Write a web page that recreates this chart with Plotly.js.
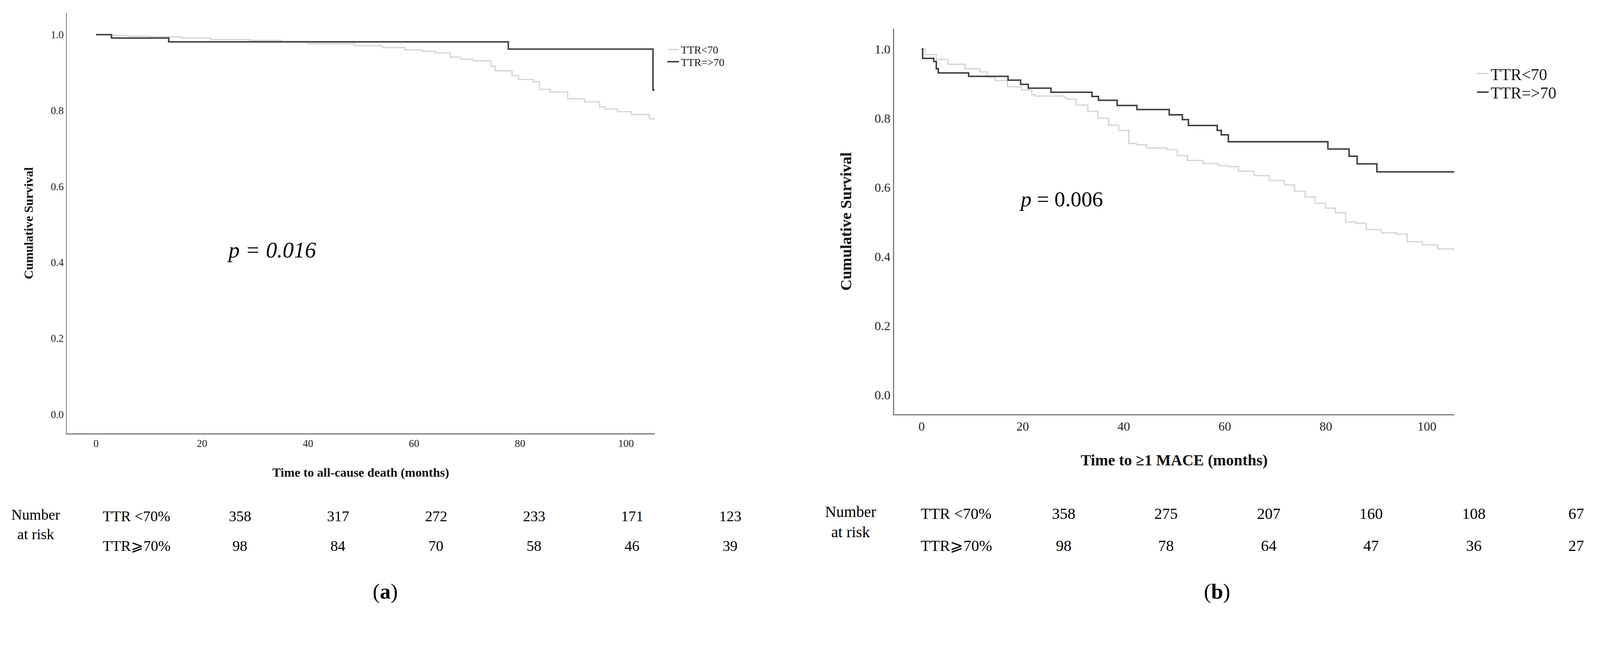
<!DOCTYPE html>
<html>
<head>
<meta charset="utf-8">
<script src="https://cdn.plot.ly/plotly-3.0.1.min.js"></script>
<style>html,body{margin:0;padding:0;background:#fff;overflow:hidden;}#chart{position:absolute;left:0;top:0;}</style>
</head>
<body>
<div id="chart"></div>
<script>
// ---------- DATA ----------
// Panel (a): time to all-cause death (months) vs cumulative survival
const aLowT  = [0, 3.1, 6.2, 10.1, 13.9, 16.2, 21.6, 29, 35, 40, 48.7, 54, 58.3, 61.6, 64, 66.8, 68.8, 71.2, 74.5, 75.3, 78.5, 79.7, 82.5, 83.7, 85.7, 89, 92.2, 95, 96, 98.4, 101, 104.4, 105.5];
const aLowS  = [1.0, 0.998, 0.996, 0.995, 0.994, 0.991, 0.987, 0.985, 0.982, 0.976, 0.971, 0.966, 0.960, 0.956, 0.952, 0.941, 0.935, 0.931, 0.917, 0.905, 0.892, 0.882, 0.876, 0.856, 0.849, 0.831, 0.823, 0.810, 0.804, 0.797, 0.790, 0.778, 0.778];
const aHighT = [0, 2.9, 13.7, 77.8, 105.1, 105.4];
const aHighS = [1.0, 0.991, 0.981, 0.962, 0.854, 0.854];

// Panel (b): time to >=1 MACE (months) vs cumulative survival
const bLowT  = [0, 0.7, 2.9, 5.2, 8.6, 11.5, 13, 14.5, 17, 19.8, 21.8, 22.5, 28.2, 28.6, 30.6, 32.9, 34.9, 37, 39, 41, 42.5, 44.5, 48.6, 50.6, 52.6, 55.7, 58.7, 60.7, 62.7, 65.8, 68.8, 71.8, 73.8, 75.9, 77.9, 79.9, 81.9, 83.9, 86, 88, 91, 94, 96.1, 99.1, 102.1, 105.4];
const bLowS  = [1.0, 0.984, 0.970, 0.956, 0.943, 0.934, 0.919, 0.909, 0.891, 0.882, 0.868, 0.864, 0.860, 0.855, 0.838, 0.820, 0.800, 0.780, 0.765, 0.727, 0.723, 0.714, 0.709, 0.692, 0.678, 0.669, 0.663, 0.660, 0.647, 0.634, 0.620, 0.607, 0.589, 0.572, 0.554, 0.540, 0.527, 0.500, 0.496, 0.478, 0.469, 0.465, 0.443, 0.434, 0.422, 0.416];
const bHighT = [0, 0.2, 2.4, 2.9, 3.3, 9.3, 17.1, 19.6, 21.1, 25.6, 33.7, 35, 38.7, 42.6, 49, 51.6, 52.8, 58.5, 59.3, 60.7, 80.4, 84.6, 86.2, 90.1, 105.4];
const bHighS = [1.0, 0.973, 0.964, 0.943, 0.931, 0.921, 0.910, 0.898, 0.887, 0.875, 0.863, 0.852, 0.837, 0.825, 0.810, 0.796, 0.779, 0.765, 0.752, 0.732, 0.711, 0.690, 0.668, 0.645, 0.645];

const seriesNames = ["TTR<70", "TTR=>70"];
const yTicks = [0, 0.2, 0.4, 0.6, 0.8, 1.0];
const xTicks = [0, 20, 40, 60, 80, 100];

const riskRowLabels = ["TTR <70%", "TTR\u2A7E70%"];
const riskHeader = "Number<br>at risk";
const riskA_low  = [358, 317, 272, 233, 171, 123];
const riskA_high = [98, 84, 70, 58, 46, 39];
const riskB_low  = [358, 275, 207, 160, 108, 67];
const riskB_high = [98, 78, 64, 47, 36, 27];

const pA = "<i>p = 0.016</i>";
const pB = "<i>p</i> = 0.006";
const xTitleA = "<b>Time to all-cause death (months)</b>";
const xTitleB = "<b>Time to \u22651 MACE (months)</b>";
const yTitle = "<b>Cumulative Survival</b>";

// ---------- LAYOUT ----------
const RW = 4302, RH = 1661;
const VW = window.innerWidth || RW, VH = window.innerHeight || RH;
const S = Math.min(VW / RW, VH / RH, 1.5);
const W = Math.round(RW * S), H = Math.round(RH * S);
const k = v => v * S;                 // scale a reference pixel size
const px = x => x / RW;               // reference x pixel -> paper
const py = y => 1 - y / RH;           // reference y pixel -> paper
const SERIF = "Liberation Serif, Times New Roman, serif";
const LIGHT = "#d6d6d6", DARK = "#3d3d3d", AXIS = "#7a7a7a";

function kmTrace(t, s, name, color, width, xa, ya, leg) {
  return {x: t, y: s, name: name, type: "scatter", mode: "lines",
          line: {shape: "hv", color: color, width: k(width)},
          xaxis: xa, yaxis: ya, legend: leg, hoverinfo: "skip"};
}

const traces = [
  kmTrace(aLowT, aLowS, seriesNames[0], LIGHT, 3.5, "x", "y", "legend"),
  kmTrace(aHighT, aHighS, seriesNames[1], DARK, 4, "x", "y", "legend2"),
  kmTrace(bLowT, bLowS, seriesNames[0], LIGHT, 3.5, "x2", "y2", "legend3"),
  kmTrace(bHighT, bHighS, seriesNames[1], DARK, 4, "x2", "y2", "legend4")
];

function xAxis(domain, range, fs, title, tfs, standoff, lstand, anchor) {
  return {domain: domain, range: range, anchor: anchor, tickvals: xTicks, ticktext: xTicks.map(String),
          showline: true, linecolor: AXIS, linewidth: k(3), showgrid: false, zeroline: false,
          ticks: "", ticklabelstandoff: k(lstand), tickfont: {family: SERIF, size: k(fs), color: "#222"},
          title: {text: title, font: {family: SERIF, size: k(tfs), color: "#111"}, standoff: k(standoff)},
          automargin: false, fixedrange: true};
}
function yAxis(domain, range, fs, tfs, standoff, lstand, anchor) {
  return {domain: domain, range: range, anchor: anchor, tickvals: yTicks, ticktext: yTicks.map(v => v.toFixed(1)),
          showline: true, linecolor: AXIS, linewidth: k(3), showgrid: false, zeroline: false,
          ticks: "", ticklabelstandoff: k(lstand), tickfont: {family: SERIF, size: k(fs), color: "#222"},
          title: {text: yTitle, font: {family: SERIF, size: k(tfs), color: "#111"}, standoff: k(standoff)},
          automargin: false, fixedrange: true};
}
function legendAt(x, y, fs) {
  return {x: px(x), y: py(y), xanchor: "left", yanchor: "middle", bgcolor: "rgba(0,0,0,0)",
          borderwidth: 0, font: {family: SERIF, size: k(fs), color: "#1a1a1a"}, itemwidth: 30};
}

const annotations = [];
function txt(x, y, text, size, opts) {
  annotations.push(Object.assign({xref: "paper", yref: "paper", x: px(x), y: py(y), text: text,
    showarrow: false, xanchor: "center", yanchor: "middle",
    font: {family: SERIF, size: k(size), color: "#000"}}, opts || {}));
}
// p values
txt(731, 672, pA, 60);
txt(2853, 535, pB, 58);
// risk tables
function riskTable(hdrX, lblX, colX0, colStep, rowY, low, high, fs) {
  txt(hdrX, rowY[0] + 22, riskHeader, fs);
  txt(lblX, rowY[0], riskRowLabels[0], fs, {xanchor: "left"});
  txt(lblX, rowY[1], riskRowLabels[1], fs, {xanchor: "left"});
  low.forEach((v, i) => txt(colX0 + i * colStep, rowY[0], String(v), fs));
  high.forEach((v, i) => txt(colX0 + i * colStep, rowY[1], String(v), fs));
}
riskTable(96, 274, 645, 263.6, [1388, 1468], riskA_low, riskA_high, 40);
riskTable(2287, 2473, 2860, 275.6, [1381, 1467], riskB_low, riskB_high, 42);
// panel labels
txt(1036, 1590, "(<b>a</b>)", 58);
txt(3273, 1590, "(<b>b</b>)", 58);

const layout = {
  width: W, height: H,
  margin: {l: 0, r: 0, t: 0, b: 0, pad: 0},
  paper_bgcolor: "#fff", plot_bgcolor: "rgba(0,0,0,0)",
  showlegend: true,
  xaxis: xAxis([px(180), px(1760)], [-5.5, 105.4], 28, xTitleA, 34, 52, 12, "y"),
  yaxis: yAxis([py(1165), py(35)], [-0.05, 1.057], 28, 34, 38, 12, "x"),
  xaxis2: xAxis([px(2404), px(3910)], [-5.45, 105.4], 34, xTitleB, 42, 58, 16, "y2"),
  yaxis2: yAxis([py(1114), py(77)], [-0.056, 1.059], 34, 42, 50, 12, "x2"),
  legend:  legendAt(1789, 133, 29),
  legend2: legendAt(1789, 166, 29),
  legend3: legendAt(3966, 198, 44),
  legend4: legendAt(3966, 248, 44),
  annotations: annotations
};

Plotly.newPlot("chart", traces, layout, {staticPlot: true, displayModeBar: false});
</script>
</body>
</html>
